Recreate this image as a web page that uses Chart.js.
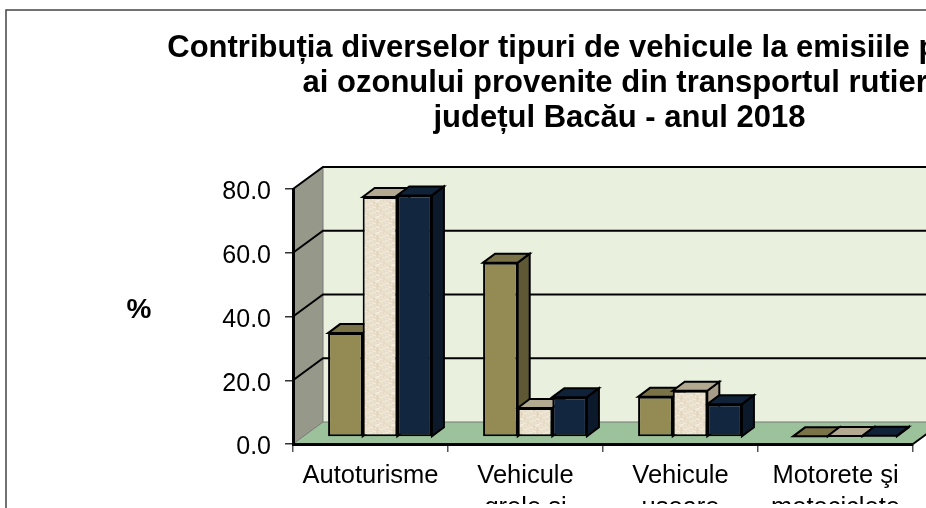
<!DOCTYPE html>
<html>
<head>
<meta charset="utf-8">
<style>
html,body{margin:0;padding:0;width:926px;height:508px;overflow:hidden;background:#fff}
#wrap{position:absolute;left:0;top:0;width:1239px;height:600px}
</style>
<script src="https://cdn.jsdelivr.net/npm/chart.js@4"></script>
</head>
<body>
<div id="wrap"><canvas id="c" width="1239" height="600" style="width:1239px;height:600px"></canvas></div>
<script>
const categories = [["Autoturisme"], ["Vehicule", "grele şi"], ["Vehicule", "uşoare"], ["Motorete şi", "motociclete"]];
const seriesA = [32.6, 54.7, 12.6, 0.2];
const seriesB = [75.3, 9.1, 14.5, 0.3];
const seriesC = [75.8, 12.5, 10.3, 0.4];
const titleLines = ["Contribuția diverselor tipuri de vehicule la emisiile precursori", "ai ozonului provenite din transportul rutier ", "județul Bacău - anul 2018"];
const yTitle = "%";

const FONT = '"Liberation Sans", Arial, sans-serif';
const WALL = {dx: 30, dy: -22};
const BAR = {fx: 9.5, fy: -7, dx: 12, dy: -9};
const faces = [
  {side: '#5E5934', top: '#7A7347'},
  {side: '#A69C88', top: '#B3A890'},
  {side: '#0B192B', top: '#0F2238'}
];

function weave() {
  const t = document.createElement('canvas');
  t.width = 16; t.height = 16;
  const g = t.getContext('2d');
  const shades = ['#EFE6D5', '#E8DDC8', '#E1D6BF', '#F3ECDE', '#DACDB4'];
  for (let py = 0; py < 16; py++) {
    for (let px = 0; px < 16; px++) {
      const k = (px % 3 === 0 ? 2 : 0) + (py % 4 === 1 ? 1 : 0) + ((px * 7 + py * 11) % 5 === 0 ? 1 : 0);
      g.fillStyle = shades[k % 5];
      g.fillRect(px, py, 1, 1);
    }
  }
  return g.createPattern(t, 'repeat');
}

function poly(ctx, pts, fill, stroke, lw) {
  ctx.beginPath();
  pts.forEach((p, i) => i ? ctx.lineTo(p[0], p[1]) : ctx.moveTo(p[0], p[1]));
  ctx.closePath();
  if (fill) { ctx.fillStyle = fill; ctx.fill(); }
  if (stroke) { ctx.strokeStyle = stroke; ctx.lineWidth = lw; ctx.stroke(); }
}

const scene = {
  id: 'scene',
  afterLayout(chart) {
    chart.titleBlock.left = 0;
    chart.titleBlock.right = chart.width;
  },
  beforeDraw(chart) {
    const {ctx, chartArea: a, scales: {y}} = chart;
    if (!y._labelsNudged) {
      y.getLabelItems().forEach(it => { it.options.translation[1] += 3.5; });
      y._labelsNudged = true;
    }
    ctx.save();
    ctx.strokeStyle = '#444'; ctx.lineWidth = 1.5;
    ctx.strokeRect(6, 10, 1400, 900);
    const {dx, dy} = WALL;
    poly(ctx, [[a.left + dx, a.top + dy], [a.right + dx, a.top + dy], [a.right + dx, a.bottom + dy], [a.left + dx, a.bottom + dy]], '#E9F0DD');
    poly(ctx, [[a.left, a.bottom], [a.right, a.bottom], [a.right + dx, a.bottom + dy], [a.left + dx, a.bottom + dy]], '#9CC29B');
    poly(ctx, [[a.left, a.bottom], [a.left, a.top], [a.left + dx, a.top + dy], [a.left + dx, a.bottom + dy]], '#96988A');
    ctx.strokeStyle = '#777'; ctx.lineWidth = 1;
    ctx.beginPath();
    ctx.moveTo(a.left + dx, a.top + dy); ctx.lineTo(a.left + dx, a.bottom + dy); ctx.lineTo(a.right + dx, a.bottom + dy);
    ctx.moveTo(a.left, a.bottom); ctx.lineTo(a.left + dx, a.bottom + dy);
    ctx.stroke();
    y.ticks.forEach(t => {
      if (t.value === 0) return;
      const p = y.getPixelForValue(t.value);
      ctx.strokeStyle = '#000'; ctx.lineWidth = 2;
      ctx.beginPath();
      ctx.moveTo(a.left, p); ctx.lineTo(a.left + dx, p + dy); ctx.lineTo(a.right + dx, p + dy);
      ctx.stroke();
    });
    ctx.strokeStyle = '#000'; ctx.lineWidth = 2;
    ctx.beginPath(); ctx.moveTo(a.right, a.bottom); ctx.lineTo(a.right + dx, a.bottom + dy); ctx.stroke();
    ctx.fillStyle = '#000';
    ctx.font = 'bold 28px ' + FONT;
    ctx.textAlign = 'center'; ctx.textBaseline = 'middle';
    ctx.fillText(yTitle, 139, 310);
    ctx.restore();
  },
  beforeDatasetsDraw(chart) {
    const ctx = chart.ctx;
    ctx.save();
    ctx.translate(BAR.fx, BAR.fy);
    chart.data.datasets.forEach((ds, i) => {
      chart.getDatasetMeta(i).data.forEach(b => {
        const {x, y, base, width} = b.getProps(['x', 'y', 'base', 'width'], true);
        const l = x - width / 2, r = x + width / 2;
        const {dx, dy} = BAR;
        poly(ctx, [[r, y], [r + dx, y + dy], [r + dx, base + dy], [r, base]], faces[i].side, '#000', 2);
        poly(ctx, [[l, y], [l + dx, y + dy], [r + dx, y + dy], [r, y]], faces[i].top, '#000', 2);
      });
    });
  },
  afterDatasetsDraw(chart) {
    chart.ctx.restore();
  }
};

new Chart(document.getElementById('c').getContext('2d'), {
  type: 'bar',
  data: {
    labels: categories,
    datasets: [
      {label: 'A', data: seriesA, backgroundColor: '#948B54'},
      {label: 'B', data: seriesB, backgroundColor: weave()},
      {label: 'C', data: seriesC, backgroundColor: '#12263F'}
    ].map(d => Object.assign(d, {borderColor: '#000', borderWidth: 2, borderSkipped: false, categoryPercentage: 0.67, barPercentage: 1, clip: false}))
  },
  options: {
    responsive: false,
    animation: false,
    layout: {padding: {left: 193, right: 326, top: 0, bottom: 96}},
    plugins: {
      legend: {display: false},
      tooltip: {enabled: false},
      title: {
        display: true,
        text: titleLines,
        color: '#000',
        font: {family: FONT, size: 31, weight: 'bold', lineHeight: 35 / 31},
        padding: {top: 31, bottom: 53}
      }
    },
    scales: {
      x: {
        afterFit(s) { s.height = 60; },
        grid: {drawOnChartArea: false, drawTicks: true, tickLength: 8, color: '#555', lineWidth: 1.5},
        border: {display: true, color: '#000', width: 3},
        ticks: {color: '#000', padding: 8, maxRotation: 0, autoSkip: false, font: {family: FONT, size: 25.5, lineHeight: 32 / 25.5}}
      },
      y: {
        min: 0, max: 80,
        afterFit(s) { s.width = 100; },
        grid: {drawOnChartArea: false, drawTicks: true, tickLength: 8, color: '#333', lineWidth: 1.5},
        border: {display: true, color: '#000', width: 3},
        ticks: {stepSize: 20, color: '#000', padding: 14, callback: v => v.toFixed(1), font: {family: FONT, size: 25}}
      }
    }
  },
  plugins: [scene]
});
</script>
</body>
</html>
